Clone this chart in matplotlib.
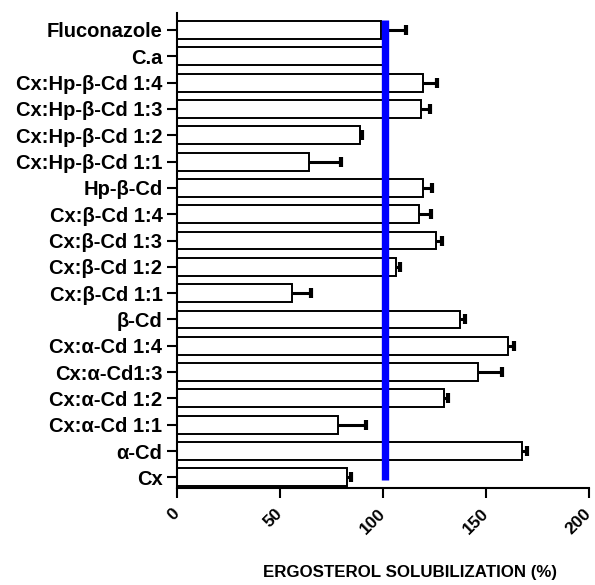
import numpy as np
import matplotlib
matplotlib.use("Agg")
from matplotlib import pyplot as plt

plt.rcParams["font.family"] = ["Liberation Sans", "DejaVu Sans"]
plt.rcParams["font.weight"] = "bold"

# bottom to top, as drawn on the y axis
labels = [
    "Cx", "α-Cd", "Cx:α-Cd 1:1", "Cx:α-Cd 1:2", "Cx:α-Cd1:3", "Cx:α-Cd 1:4",
    "β-Cd", "Cx:β-Cd 1:1", "Cx:β-Cd 1:2", "Cx:β-Cd 1:3", "Cx:β-Cd 1:4",
    "Hp-β-Cd", "Cx:Hp-β-Cd 1:1", "Cx:Hp-β-Cd 1:2", "Cx:Hp-β-Cd 1:3",
    "Cx:Hp-β-Cd 1:4", "C.a", "Fluconazole",
]
values = [82.7, 167.3, 78.0, 129.6, 146.0, 160.7,
          137.5, 56.0, 106.5, 125.7, 117.5,
          119.5, 64.0, 89.0, 118.5, 119.5, 100.0, 99.0]
errors = [1.7, 2.7, 13.8, 2.0, 11.8, 2.9,
          2.5, 9.0, 1.5, 3.0, 6.0,
          4.5, 15.5, 1.0, 4.5, 6.5, 0.0, 12.0]
reference_level = 101
x_ticks = [0, 50, 100, 150, 200]

fig = plt.figure(figsize=(5.95, 5.85), dpi=100)
ax = fig.add_axes([0.2975, 0.166, 0.6925, 0.812])

y = np.arange(len(labels))
vals = np.array(values)
errs = np.array(errors)

ax.barh(y, vals, height=0.68, color="white", edgecolor="black", linewidth=1.4, zorder=2)

# one-sided error bars: line from bar end plus a cap on the right only
has_err = errs > 0
ends = vals[has_err] + errs[has_err]
ax.hlines(y[has_err], vals[has_err], ends, color="black", linewidth=2.2, zorder=3)
ax.plot(ends, y[has_err], linestyle="none", marker="|", markersize=7.5,
        markeredgewidth=3, color="black", zorder=3)

ax.plot([reference_level, reference_level], [-0.11, len(labels) - 0.62],
        color="#0000ff", linewidth=5.3, solid_capstyle="butt", zorder=4)

ax.set_xlim(0, 200)
ax.set_ylim(-0.4, len(labels) - 0.35)
ax.set_xticks(x_ticks)
ax.set_xticklabels([str(t) for t in x_ticks], rotation=45, ha="right", va="center",
                   rotation_mode="anchor", fontsize=12.5, fontweight="bold")
ax.set_yticks(y)
ax.set_yticklabels(labels, fontsize=14.5, fontweight="bold")
ax.tick_params(axis="both", length=7, width=1.5, direction="out")
ax.tick_params(axis="x", pad=10)

for side in ("top", "right"):
    ax.spines[side].set_visible(False)
for side in ("left", "bottom"):
    ax.spines[side].set_linewidth(1.5)

fig.text(0.689, 0.022, "ERGOSTEROL SOLUBILIZATION (%)", ha="center", va="center",
         fontsize=12.2, fontweight="bold")

fig.savefig("out.png", dpi=100)
